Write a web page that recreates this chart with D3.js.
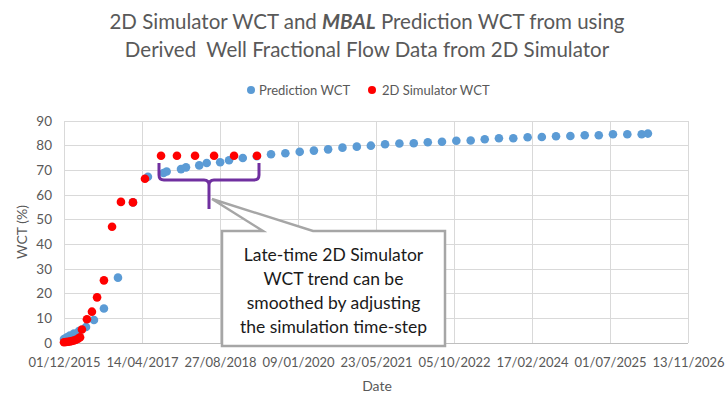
<!DOCTYPE html>
<html><head><meta charset="utf-8">
<script src="https://cdn.jsdelivr.net/npm/d3@7"></script>
<style>
body{margin:0;background:#fff;}
svg{display:block;font-family:Lato,"Open Sans",sans-serif;}
</style></head><body>
<svg id="c" width="728" height="396"></svg>
<script>
// ---- data ----
const xTickLabels = ["01/12/2015","14/04/2017","27/08/2018","09/01/2020","23/05/2021","05/10/2022","17/02/2024","01/07/2025","13/11/2026"];
const yTicks = [0,10,20,30,40,50,60,70,80,90];

const predDates = ["2015-12-01","2015-12-20","2016-01-08","2016-02-03","2016-03-06","2016-04-20","2016-06-10","2016-08-13","2016-11-11","2017-02-15",
 "2017-05-22","2017-08-30","2017-09-19","2017-12-20","2018-01-21","2018-04-16","2018-06-03","2018-08-28","2018-10-24","2019-01-20","2019-04-20",
 "2019-07-20","2019-10-20","2020-01-20","2020-04-20","2020-07-20","2020-10-20","2021-01-20","2021-04-20","2021-07-20","2021-10-20",
 "2022-01-20","2022-04-20","2022-07-20","2022-10-20","2023-01-20","2023-04-20","2023-07-20","2023-10-20","2024-01-20","2024-04-20",
 "2024-07-20","2024-10-20","2025-01-20","2025-04-20","2025-07-20","2025-10-20","2026-01-20","2026-03-01"];
const predWCT = [1.6,2.3,3.0,3.8,4.8,6.5,9.3,14.0,26.5,57.0,
 67.4,68.9,69.5,70.5,71.2,72.0,73.0,73.3,74.1,75.0,75.7,
 76.5,76.9,77.5,78.0,78.5,79.2,79.6,80.0,80.6,80.9,
 81.0,81.4,81.6,82.0,82.1,82.6,83.0,83.0,83.4,83.5,
 83.8,83.9,84.2,84.2,84.6,84.6,84.6,84.9];

const simDates = ["2015-12-01","2015-12-14","2015-12-27","2016-01-08","2016-01-21","2016-02-03","2016-02-16","2016-02-29","2016-03-13",
 "2016-03-25","2016-04-26","2016-05-28","2016-06-30","2016-08-13","2016-10-04","2016-11-30","2017-02-15","2017-05-03",
 "2017-08-14","2017-11-24","2018-03-20","2018-07-20","2018-11-25","2019-04-21"];
const simWCT = [0.3,0.4,0.5,0.6,0.8,1.0,1.3,1.7,2.3,
 5.5,9.6,12.7,18.5,25.4,47.1,57.2,57.0,66.6,
 75.9,75.9,75.9,75.9,75.9,75.9];

const titleLines = ["2D Simulator WCT and |MBAL| Prediction WCT from using","Derived  Well Fractional Flow Data from 2D Simulator"];
const calloutLines = ["Late-time 2D Simulator","WCT trend can be","smoothed by adjusting","the simulation time-step"];

// ---- chart ----
const parse = d3.timeParse("%Y-%m-%d");
const parseTick = d3.timeParse("%d/%m/%Y");
const svg = d3.select("#c");
const L=64,R=688,T=121,B=343;
const x = d3.scaleTime().domain([parseTick(xTickLabels[0]), parseTick(xTickLabels[xTickLabels.length-1])]).range([L,R]);
const y = d3.scaleLinear().domain([0,90]).range([B,T]);
const txt="#595959", grid="#d9d9d9";

// title
const tt = svg.append("g").attr("fill",txt).attr("font-size",20.5).attr("text-anchor","middle");
titleLines.forEach((ln,i)=>{
  const t = tt.append("text").attr("x",367).attr("y",29+i*28).attr("xml:space","preserve");
  ln.split("|").forEach((part,j)=>{
    const s=t.append("tspan").text(part);
    if(j%2===1) s.attr("font-weight","bold").attr("font-style","italic");
  });
});

// legend
const lg = svg.append("g").attr("font-size",13).attr("fill",txt);
lg.append("circle").attr("cx",251).attr("cy",90).attr("r",4).attr("fill","#5b9bd5");
lg.append("text").attr("x",259).attr("y",94.5).text("Prediction WCT");
lg.append("circle").attr("cx",372).attr("cy",90).attr("r",4).attr("fill","#ff0000");
lg.append("text").attr("x",382).attr("y",94.5).text("2D Simulator WCT");

// gridlines
const tickDates = xTickLabels.map(parseTick);
svg.append("g").selectAll("line").data(yTicks).join("line")
  .attr("x1",L).attr("x2",R).attr("y1",d=>y(d)).attr("y2",d=>y(d))
  .attr("stroke",d=>d===0?"#bfbfbf":grid).attr("stroke-width",1).attr("shape-rendering","crispEdges");
svg.append("g").selectAll("line").data(tickDates).join("line")
  .attr("x1",d=>x(d)).attr("x2",d=>x(d)).attr("y1",T).attr("y2",B)
  .attr("stroke",grid).attr("stroke-width",1).attr("shape-rendering","crispEdges");

// axes
const yAx = svg.append("g").attr("transform",`translate(${L},0)`)
  .call(d3.axisLeft(y).tickValues(yTicks).tickSize(0).tickPadding(12));
yAx.select(".domain").remove();
yAx.selectAll("text").attr("fill",txt).attr("font-size",13.5).attr("font-family","Lato");
const xAx = svg.append("g").attr("transform",`translate(0,${B})`)
  .call(d3.axisBottom(x).tickValues(tickDates).tickFormat(d3.timeFormat("%d/%m/%Y")).tickSize(0).tickPadding(15));
xAx.select(".domain").remove();
xAx.selectAll("text").attr("fill",txt).attr("font-size",13).attr("font-family","Lato");

svg.append("text").attr("x",377).attr("y",391).attr("text-anchor","middle").attr("fill",txt).attr("font-size",14).text("Date");
svg.append("text").attr("transform","translate(27,232) rotate(-90)").attr("text-anchor","middle").attr("fill",txt).attr("font-size",14).text("WCT (%)");

// points
const pred = predDates.map((d,i)=>({d:parse(d),v:predWCT[i]}));
const sim = simDates.map((d,i)=>({d:parse(d),v:simWCT[i]}));
svg.append("g").selectAll("circle").data(pred).join("circle")
  .attr("cx",d=>x(d.d)).attr("cy",d=>y(d.v)).attr("r",4.3).attr("fill","#5b9bd5");
svg.append("g").selectAll("circle").data(sim).join("circle")
  .attr("cx",d=>x(d.d)).attr("cy",d=>y(d.v)).attr("r",4.3).attr("fill","#ff0000");

// brace annotation
svg.append("path")
  .attr("d","M159,163 L159,175 Q159,180 164,180 L204,180 Q209,180 209,185 L209,209 M209,185 Q209,180 214,180 L254,180 Q259,180 259,175 L259,163")
  .attr("fill","none").attr("stroke","#7030a0").attr("stroke-width",3);

// callout
svg.append("path")
  .attr("d","M222,231 L263,231 L212,199 L313,231 L445,231 L445,346 L222,346 Z")
  .attr("fill","#fff").attr("stroke","#a6a6a6").attr("stroke-width",2.5).attr("stroke-linejoin","miter");
const ct = svg.append("g").attr("font-size",17.5).attr("fill","#1a1a1a").attr("text-anchor","middle");
calloutLines.forEach((ln,i)=>ct.append("text").attr("x",333.5).attr("y",261+i*24).text(ln));
</script>
</body></html>
